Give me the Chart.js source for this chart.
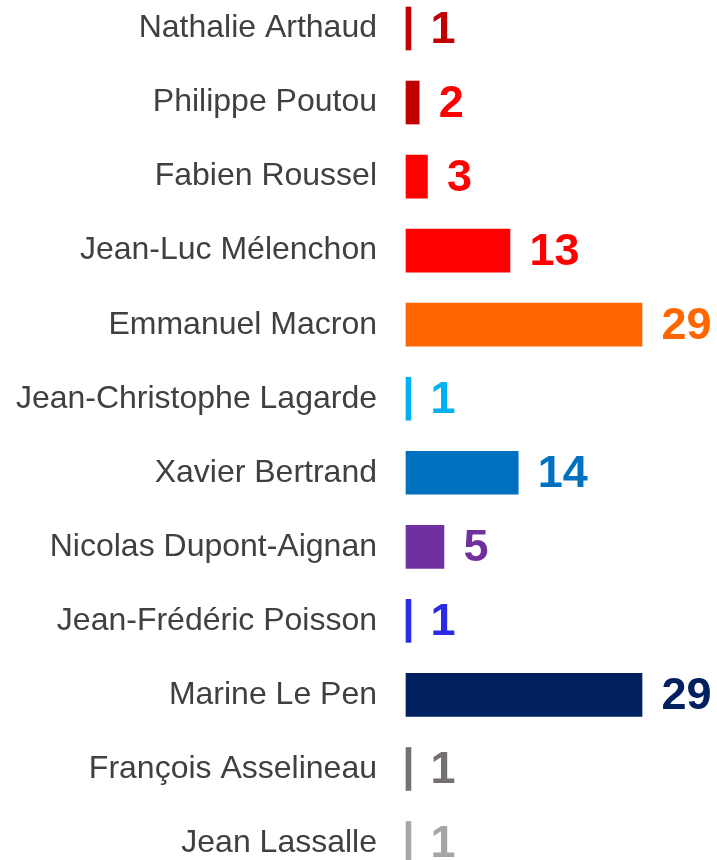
<!DOCTYPE html>
<html>
<head>
<meta charset="utf-8">
<script src="https://cdn.jsdelivr.net/npm/chart.js@4"></script>
<style>
  html, body { margin: 0; padding: 0; background: #fff; overflow: hidden; }
</style>
</head>
<body>
<canvas id="myBarChart" width="717" height="860"></canvas>
<script>
const candidats = [
  "Nathalie Arthaud", "Philippe Poutou", "Fabien Roussel", "Jean-Luc Mélenchon",
  "Emmanuel Macron", "Jean-Christophe Lagarde", "Xavier Bertrand",
  "Nicolas Dupont-Aignan", "Jean-Frédéric Poisson", "Marine Le Pen",
  "François Asselineau", "Jean Lassalle"
];
const scores = [1, 2, 3, 13, 29, 1, 14, 5, 1, 29, 1, 1];
const barColors = [
  "#C00000", "#C00000", "#FF0000", "#FF0000", "#FF6600", "#00B0F0",
  "#0070C0", "#7030A0", "#2B2BE6", "#002060", "#767171", "#A6A6A6"
];
const labelColors = [
  "#C00000", "#FF0000", "#FF0000", "#FF0000", "#FF6600", "#00B0F0",
  "#0070C0", "#7030A0", "#2B2BE6", "#002060", "#767171", "#A6A6A6"
];

const FONT = "'Liberation Sans', Arial, sans-serif";

// values written right of each bar
const valueLabels = {
  id: "valueLabels",
  afterDatasetsDraw(chart) {
    const ctx = chart.ctx;
    const meta = chart.getDatasetMeta(0);
    ctx.save();
    ctx.font = "bold 45px " + FONT;
    ctx.textAlign = "left";
    ctx.textBaseline = "middle";
    meta.data.forEach((bar, i) => {
      ctx.fillStyle = labelColors[i];
      ctx.fillText(String(scores[i]), bar.x + 19.5, bar.y + 2);
    });
    ctx.restore();
  }
};

new Chart(document.getElementById("myBarChart"), {
  type: "bar",
  data: {
    labels: candidats,
    datasets: [
      {
        data: scores,
        base: 0.4,
        backgroundColor: barColors,
        borderWidth: 0,
        barThickness: 43,
        clip: false,
      },
    ],
  },
  options: {
    indexAxis: "y",
    responsive: false,
    animation: false,
    layout: { padding: { top: 28.5, bottom: 17, left: 0, right: 75 } },
    plugins: {
      legend: { display: false },
      tooltip: { enabled: false },
    },
    scales: {
      x: {
        display: false,
        min: 0.4,
        max: 29,
      },
      y: {
        offset: false,
        grid: { display: false, drawTicks: false },
        border: { display: false },
        ticks: {
          color: "#404040",
          padding: 29,
          font: { family: FONT, size: 32, lineHeight: 0.01 },
        },
        afterFit: (scale) => {
          scale.width = 406;
          scale.paddingTop = 0;
          scale.paddingBottom = 0;
        },
      },
    },
  },
  plugins: [valueLabels],
});
</script>
</body>
</html>
